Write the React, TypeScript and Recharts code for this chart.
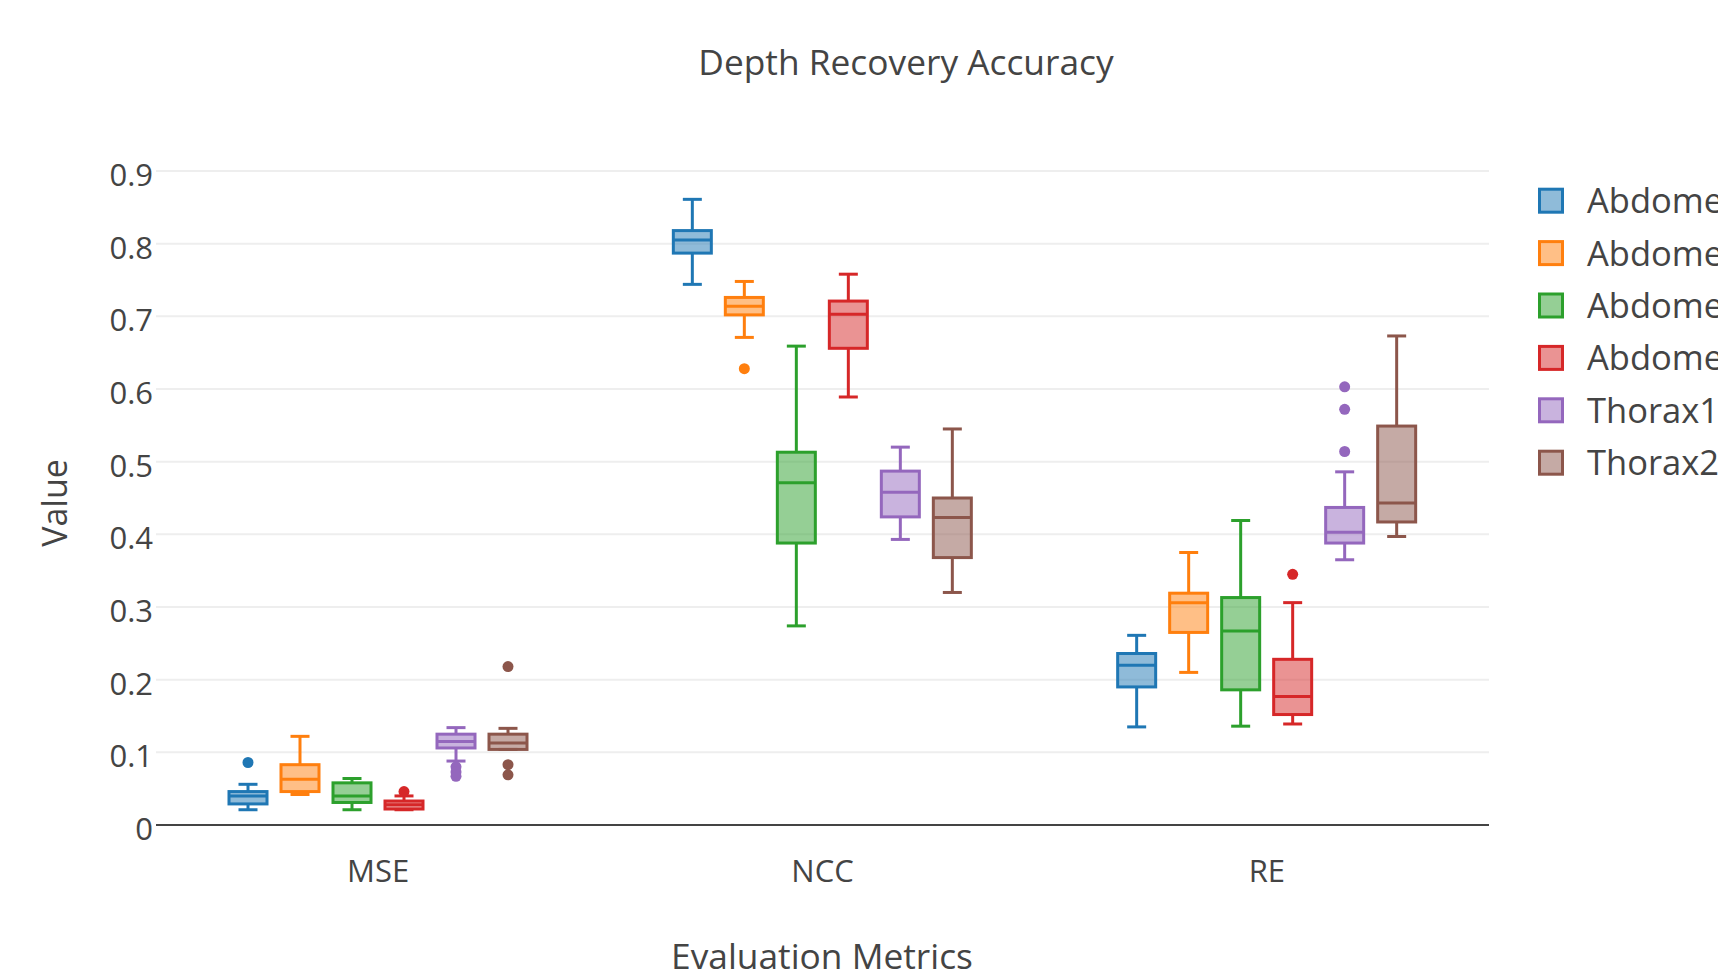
import { Bar, CartesianGrid, ComposedChart, XAxis, YAxis } from "recharts";

const categories = ["MSE", "NCC", "RE"];
const seriesNames = ["Abdomen1", "Abdomen2", "Abdomen3", "Abdomen4", "Thorax1", "Thorax2"];
const seriesColors = ["#1f77b4", "#ff7f0e", "#2ca02c", "#d62728", "#9467bd", "#8c564b"];
const yTicks = [0, 0.1, 0.2, 0.3, 0.4, 0.5, 0.6, 0.7, 0.8, 0.9];

// [lower whisker, q1, median, q3, upper whisker] for MSE, NCC, RE
const abdomen1Stats = [
  [0.021, 0.029, 0.04, 0.046, 0.056],
  [0.744, 0.787, 0.805, 0.818, 0.861],
  [0.135, 0.19, 0.22, 0.236, 0.261],
];
const abdomen1Outliers = [[0.086], [], []];

const abdomen2Stats = [
  [0.042, 0.046, 0.063, 0.083, 0.122],
  [0.671, 0.702, 0.714, 0.726, 0.748],
  [0.21, 0.265, 0.306, 0.319, 0.375],
];
const abdomen2Outliers = [[], [0.628], []];

const abdomen3Stats = [
  [0.021, 0.031, 0.04, 0.058, 0.064],
  [0.274, 0.388, 0.471, 0.513, 0.659],
  [0.136, 0.186, 0.267, 0.313, 0.419],
];
const abdomen3Outliers = [[], [], []];

const abdomen4Stats = [
  [0.021, 0.022, 0.028, 0.033, 0.04],
  [0.589, 0.656, 0.703, 0.721, 0.758],
  [0.139, 0.152, 0.177, 0.228, 0.306],
];
const abdomen4Outliers = [[0.046], [], [0.345]];

const thorax1Stats = [
  [0.088, 0.106, 0.115, 0.125, 0.134],
  [0.393, 0.424, 0.458, 0.487, 0.52],
  [0.365, 0.388, 0.403, 0.437, 0.486],
];
const thorax1Outliers = [[0.08, 0.073, 0.067], [], [0.603, 0.572, 0.514]];

const thorax2Stats = [
  [0.104, 0.104, 0.113, 0.125, 0.133],
  [0.32, 0.368, 0.423, 0.45, 0.545],
  [0.397, 0.417, 0.443, 0.549, 0.673],
];
const thorax2Outliers = [[0.218, 0.083, 0.069], [], []];

const statsBySeries = [abdomen1Stats, abdomen2Stats, abdomen3Stats, abdomen4Stats, thorax1Stats, thorax2Stats];
const outliersBySeries = [
  abdomen1Outliers,
  abdomen2Outliers,
  abdomen3Outliers,
  abdomen4Outliers,
  thorax1Outliers,
  thorax2Outliers,
];

// each series is a floating bar spanning its whiskers; the shape draws the box inside it
const data = categories.map((category, ci) => {
  const row: Record<string, unknown> = { category };
  statsBySeries.forEach((stats, si) => {
    row[`s${si}`] = [stats[ci][0], stats[ci][4]];
  });
  return row;
});

const FONT = '"Open Sans", verdana, arial, sans-serif';
const TEXT = "#444";

function makeBoxShape(si: number) {
  const color = seriesColors[si];
  return (props: any) => {
    const { x, y, width, height, payload, index } = props;
    if (x == null || y == null) return <g />;
    let ci = payload ? categories.indexOf(payload.category) : -1;
    if (ci < 0) ci = index ?? 0;
    const [lo, q1, med, q3, hi] = statsBySeries[si][ci];
    const top = Math.min(y, y + height);
    const bottom = Math.max(y, y + height);
    const py = (v: number) => bottom - ((v - lo) / (hi - lo)) * (bottom - top);
    const cx = x + width / 2;
    const cap = width / 2;
    const sw = 3;
    return (
      <g>
        <line x1={cx} x2={cx} y1={py(hi)} y2={py(q3)} stroke={color} strokeWidth={sw} />
        <line x1={cx} x2={cx} y1={py(q1)} y2={py(lo)} stroke={color} strokeWidth={sw} />
        <line x1={cx - cap / 2} x2={cx + cap / 2} y1={py(hi)} y2={py(hi)} stroke={color} strokeWidth={sw} />
        <line x1={cx - cap / 2} x2={cx + cap / 2} y1={py(lo)} y2={py(lo)} stroke={color} strokeWidth={sw} />
        <rect
          x={x}
          y={py(q3)}
          width={width}
          height={Math.max(py(q1) - py(q3), 0.5)}
          fill={color}
          fillOpacity={0.5}
          stroke={color}
          strokeWidth={sw}
        />
        <line x1={x} x2={x + width} y1={py(med)} y2={py(med)} stroke={color} strokeWidth={sw} />
        {outliersBySeries[si][ci].map((v, k) => (
          <circle key={k} cx={cx} cy={py(v)} r={5.5} fill={color} />
        ))}
      </g>
    );
  };
}

function YTick(props: any) {
  const { x, y, payload } = props;
  return (
    <text x={x} y={y + 4} dy="0.36em" textAnchor="end" fill={TEXT} fontSize={31} fontFamily={FONT}>
      {String(payload.value)}
    </text>
  );
}

function XTick(props: any) {
  const { x, y, payload } = props;
  return (
    <text x={x} y={y + 33} dy="0.71em" textAnchor="middle" fill={TEXT} fontSize={31} fontFamily={FONT}>
      {payload.value}
    </text>
  );
}

export default function App() {
  return (
    <div style={{ position: "relative", width: 1718, height: 973, overflow: "hidden", background: "#fff" }}>
      <style>{"body{margin:0}"}</style>
      <ComposedChart
        width={1718}
        height={973}
        data={data}
        margin={{ top: 171, right: 229, bottom: 0, left: 0 }}
        barGap={14}
      >
        <CartesianGrid vertical={false} stroke="#eee" strokeWidth={2} />
        <XAxis
          dataKey="category"
          height={148}
          tickSize={0}
          tick={<XTick />}
          axisLine={{ stroke: TEXT, strokeWidth: 2 }}
          tickLine={false}
        />
        <YAxis
          type="number"
          domain={[0, 0.9]}
          ticks={yTicks}
          width={156}
          tickSize={0}
          tickMargin={3}
          tick={<YTick />}
          axisLine={false}
          tickLine={false}
        />
        {seriesNames.map((name, si) => (
          <Bar
            key={name}
            name={name}
            dataKey={`s${si}`}
            barSize={38}
            fill={seriesColors[si]}
            shape={makeBoxShape(si)}
            isAnimationActive={false}
          />
        ))}
      </ComposedChart>
      <svg
        width={1718}
        height={973}
        style={{ position: "absolute", left: 0, top: 0, pointerEvents: "none" }}
        fontFamily={FONT}
        fill={TEXT}
      >
        <text x={906} y={75} textAnchor="middle" fontSize={35.3}>
          Depth Recovery Accuracy
        </text>
        <text x={822} y={969} textAnchor="middle" fontSize={35.3}>
          Evaluation Metrics
        </text>
        <text x={67} y={503} textAnchor="middle" fontSize={34} transform="rotate(-90 67 503)">
          Value
        </text>
        {seriesNames.map((name, si) => {
          const cy = 200.7 + si * 52.4;
          return (
            <g key={name}>
              <rect
                x={1539.5}
                y={cy - 11.5}
                width={23}
                height={23}
                fill={seriesColors[si]}
                fillOpacity={0.5}
                stroke={seriesColors[si]}
                strokeWidth={3}
              />
              <text x={1587} y={cy} dy="0.36em" fontSize={34.5}>
                {name}
              </text>
            </g>
          );
        })}
      </svg>
    </div>
  );
}
